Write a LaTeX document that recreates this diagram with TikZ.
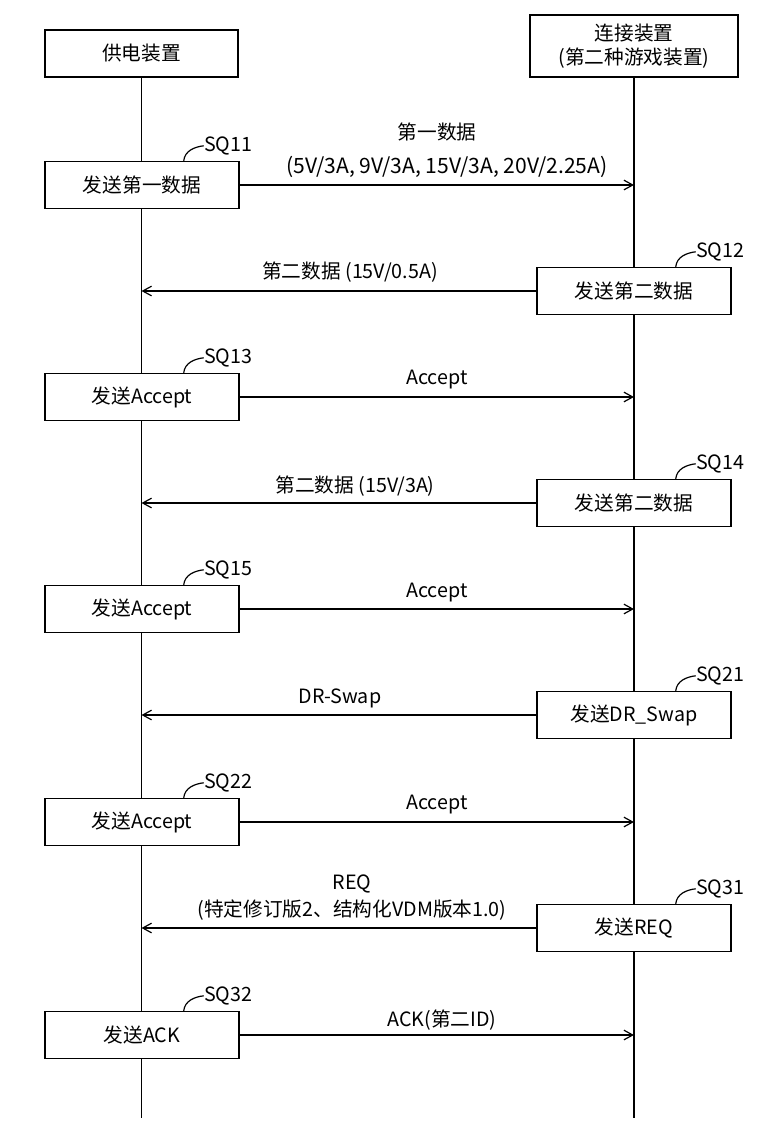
\documentclass[tikz,border=0pt]{standalone}
\usepackage{fontspec}
\setmainfont{Noto Sans CJK SC}
\usepackage{tikz}
\usetikzlibrary{arrows.meta,backgrounds,calc,positioning}

\begin{document}
\begin{tikzpicture}[
    x=0.025cm,y=-0.025cm,
    every node/.style={font=\fontsize{14}{17}\selectfont},
    hdr/.style={rectangle,draw,fill=white,line width=1pt,minimum width=4.825cm,minimum height=1.175cm,align=center,inner sep=2pt},
    act/.style={rectangle,draw,fill=white,line width=1pt,minimum width=4.85cm,minimum height=1.175cm,inner sep=2pt},
    msg/.style={-{Straight Barb[length=2.2mm,width=2.4mm]},line width=0.85pt},
    lbl/.style={inner sep=1pt},
    sqlbl/.style={anchor=west,inner sep=0pt},
    lead/.style={line width=0.85pt}
]
    \useasboundingbox (0,0) rectangle (774,1136);

    \node[hdr] (psu) at (141.5,53.5) {供电装置};
    \node[hdr,minimum width=5.2cm,minimum height=1.55cm,inner sep=1pt] (con) at (634,46) {连接装置\\(第二种游戏装置)};
    \coordinate (pend) at (142,1118);
    \coordinate (cend) at (634,1118);

    \node[act] (sq11) at (142,185) {发送第一数据};
    \node[act] (sq12) at (634,291) {发送第二数据};
    \node[act] (sq13) at (142,397) {发送Accept};
    \node[act] (sq14) at (634,503) {发送第二数据};
    \node[act] (sq15) at (142,609) {发送Accept};
    \node[act] (sq21) at (634,715) {发送DR\_Swap};
    \node[act] (sq22) at (142,822) {发送Accept};
    \node[act] (sq31) at (634,928) {发送REQ};
    \node[act] (sq32) at (142,1035) {发送ACK};

    \node[lbl] (m11a) at (437,132) {第一数据};
    \node[lbl,font=\fontsize{15}{17}\selectfont] (m11b) at (447,167) {(5V/3A, 9V/3A, 15V/3A, 20V/2.25A)};
    \node[lbl] (m12) at (350,272) {第二数据 (15V/0.5A)};
    \node[lbl] (m13) at (437,380) {Accept};
    \node[lbl] (m14) at (355,486) {第二数据 (15V/3A)};
    \node[lbl] (m15) at (437,593) {Accept};
    \node[lbl] (m21) at (340,698) {DR-Swap};
    \node[lbl] (m22) at (437,805) {Accept};
    \node[lbl] (m31a) at (352,884) {REQ};
    \node[lbl] (m31b) at (352,910) {(特定修订版2、结构化VDM版本1.0)};
    \node[lbl] (m32) at (442,1020) {ACK(第二ID)};

    \draw[msg] (sq11) -- (sq11 -| con);
    \draw[msg] (sq12) -- (sq12 -| psu);
    \draw[msg] (sq13) -- (sq13 -| con);
    \draw[msg] (sq14) -- (sq14 -| psu);
    \draw[msg] (sq15) -- (sq15 -| con);
    \draw[msg] (sq21) -- (sq21 -| psu);
    \draw[msg] (sq22) -- (sq22 -| con);
    \draw[msg] (sq31) -- (sq31 -| psu);
    \draw[msg] (sq32) -- (sq32 -| con);

    \foreach \b/\t in {sq11/SQ11,sq12/SQ12,sq13/SQ13,sq14/SQ14,sq15/SQ15,sq21/SQ21,sq22/SQ22,sq31/SQ31,sq32/SQ32} {
        \coordinate (\b s) at ($(\b.north east)+(-56,0)$);
        \node[sqlbl] (\b t) at ($(\b.north east)+(-36,-15)$) {\t};
        \draw[lead] (\b s) .. controls +(1,-10) and +(-9,1) .. (\b t.west);
    }

    \begin{scope}[on background layer]
        \draw[lead] (psu.south) -- (psu.south |- pend);
        \draw[lead] (con.south) -- (con.south |- cend);
    \end{scope}
\end{tikzpicture}
\end{document}
